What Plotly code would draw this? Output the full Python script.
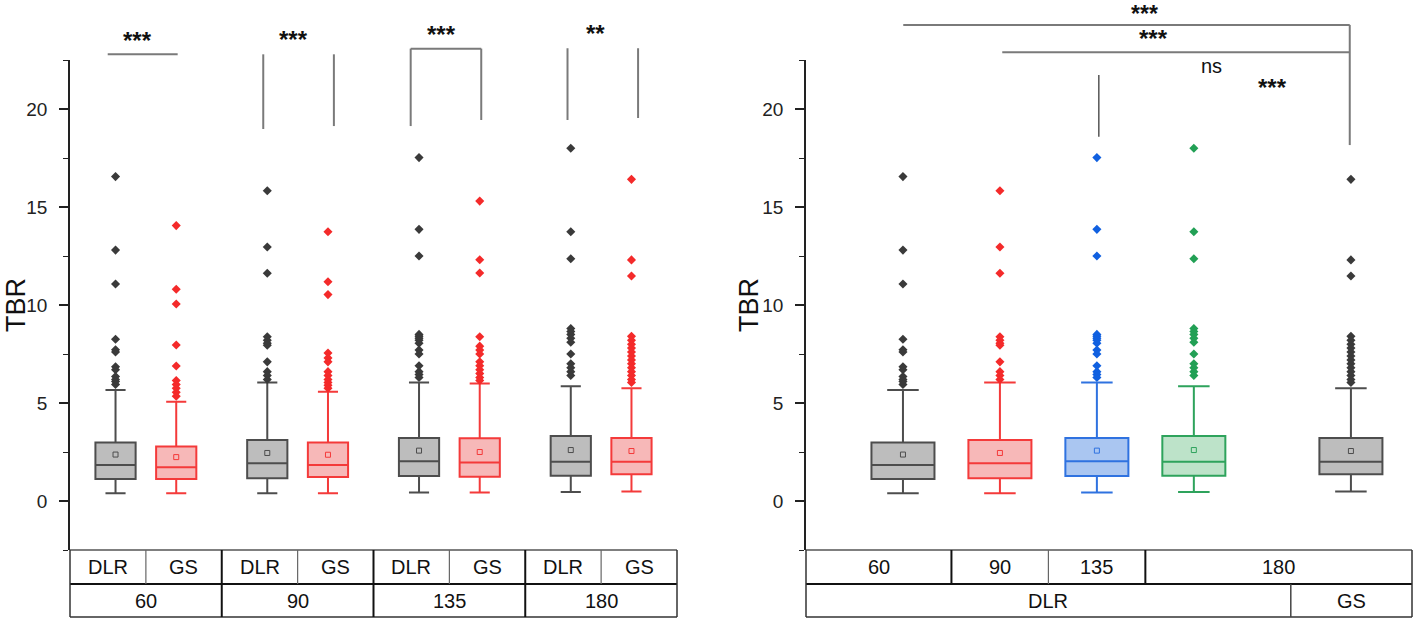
import plotly.graph_objects as go

# ---------------- data ----------------
doses = ["60", "90", "135", "180"]
methods = ["DLR", "GS"]

# box order: DLR60, GS60, DLR90, GS90, DLR135, GS135, DLR180, GS180
lower_whisker = [0.40, 0.40, 0.40, 0.40, 0.43, 0.43, 0.46, 0.48]
q1_vals = [1.12, 1.12, 1.16, 1.22, 1.27, 1.24, 1.29, 1.37]
median_vals = [1.84, 1.72, 1.93, 1.84, 2.03, 1.96, 2.00, 2.00]
q3_vals = [2.99, 2.78, 3.11, 2.98, 3.22, 3.20, 3.31, 3.21]
upper_whisker = [5.66, 5.07, 6.05, 5.58, 6.05, 6.00, 5.85, 5.75]
mean_vals = [2.37, 2.24, 2.45, 2.36, 2.57, 2.50, 2.60, 2.55]
outliers = [
    [16.55, 12.8, 11.07, 8.25, 7.72, 7.6, 6.85, 6.7, 6.35, 6.2, 6.1, 5.95],
    [14.05, 10.8, 10.05, 7.96, 6.89, 6.15, 5.95, 5.75, 5.55, 5.35],
    [15.83, 12.96, 11.62, 8.38, 8.2, 8.05, 7.95, 7.1, 6.6, 6.4, 6.2],
    [13.74, 11.19, 10.53, 7.55, 7.3, 7.1, 6.6, 6.4, 6.2, 6.05, 5.9, 5.75],
    [17.52, 13.86, 12.5, 8.5, 8.4, 8.3, 8.2, 8.05, 7.7, 7.5, 6.9, 6.6, 6.45, 6.3],
    [15.3, 12.31, 11.63, 8.38, 7.9, 7.7, 7.5, 7.1, 6.9, 6.7, 6.5, 6.3, 6.15],
    [18.0, 13.74, 12.36, 8.8, 8.65, 8.5, 8.3, 8.1, 7.5, 7.0, 6.8, 6.6, 6.4],
    [16.41, 12.3, 11.48, 8.4, 8.2, 8.0, 7.8, 7.6, 7.4, 7.2, 7.0, 6.8, 6.6, 6.4, 6.2, 6.05],
]

# right panel: DLR at 60/90/135/180 and GS (180) -> indices into the box arrays above
right_idx = [0, 2, 4, 6, 7]
right_row1 = ["60", "90", "135", "180"]
right_row2 = ["DLR", "GS"]

left_sig = ["***", "***", "***", "**"]
right_sig = ["***", "***", "ns", "***"]
y_ticks = [0, 5, 10, 15, 20]
y_title = "TBR"

# ---------------- styles / layout ----------------
W, H = 1416, 622
MT, MB = 60, 72
PH = H - MT - MB
Y0, Y1 = -2.5, 22.5
FONT = "Arial, Liberation Sans, sans-serif"

GRAY = dict(line="#4d4d4d", fill="#bdbdbd", pt="#3a3a3a")
RED = dict(line="#f43a3a", fill="#f7b8b8", pt="#f42a2a")
BLUE = dict(line="#2f72e0", fill="#aac6f1", pt="#1060e0")
GREEN = dict(line="#2ea35c", fill="#bde3c9", pt="#22a055")
left_styles = [GRAY, RED] * 4
right_styles = [GRAY, RED, BLUE, GREEN, GRAY]

# x positions of boxes (axis units)
left_pos = [2 * g + 0.6 + 0.8 * m for g in range(4) for m in range(2)]
right_pos = [1, 2, 3, 4, 5.62]
LX = [0, 8]
RX = [0, 6.25]
right_row1_edges = [0, 1.5, 2.5, 3.5, 6.25]
right_row2_edges = [0, 5, 6.25]


def yp(v):
    return (v - Y0) / (Y1 - Y0)


ROW_MID = -34 / PH
ROW_BOT = -67 / PH
FIG_TOP = 1 + MT / PH

fig = go.Figure()


def add_box(xa, ya, pos, i, st, width):
    fig.add_trace(go.Box(
        x=[pos], q1=[q1_vals[i]], median=[median_vals[i]], q3=[q3_vals[i]],
        lowerfence=[lower_whisker[i]], upperfence=[upper_whisker[i]],
        width=width, whiskerwidth=0.5, fillcolor=st["fill"],
        line=dict(color=st["line"], width=2), boxpoints=False,
        xaxis=xa, yaxis=ya, showlegend=False, hoverinfo="skip"))
    fig.add_trace(go.Scatter(
        x=[pos] * len(outliers[i]), y=outliers[i], mode="markers",
        marker=dict(symbol="diamond", size=7, color=st["pt"]),
        xaxis=xa, yaxis=ya, showlegend=False, hoverinfo="skip"))
    fig.add_trace(go.Scatter(
        x=[pos], y=[mean_vals[i]], mode="markers",
        marker=dict(symbol="square-open", size=5, color=st["line"], line=dict(width=1)),
        xaxis=xa, yaxis=ya, showlegend=False, hoverinfo="skip"))


for i in range(8):
    add_box("x", "y", left_pos[i], i, left_styles[i], 0.53)
for k, i in enumerate(right_idx):
    add_box("x2", "y2", right_pos[k], i, right_styles[k], 0.65)

shapes = []
annotations = []

SIG_LINE = dict(color="#7a7a7a", width=2)


def seg(xref, x0, v0, x1, v1, line=SIG_LINE):
    shapes.append(dict(type="line", xref=xref, yref="paper", x0=x0, x1=x1,
                       y0=yp(v0), y1=yp(v1), line=line))


def txt(xref, x, v, t, size=24, bold=True, yshift=-3):
    annotations.append(dict(xref=xref, yref="paper", x=x, y=yp(v), text=("<b>%s</b>" % t) if bold else t,
                            showarrow=False, xanchor="center", yanchor="middle", yshift=yshift,
                            font=dict(family=FONT, size=size, color="#111")))


# left significance marks
seg("x", 0.497, 22.79, 1.419, 22.79)
seg("x", 2.547, 22.79, 2.547, 18.98)
seg("x", 3.478, 22.79, 3.478, 19.13)
seg("x", 4.49, 19.13, 4.49, 23.08)
seg("x", 4.49, 23.08, 5.42, 23.08)
seg("x", 5.42, 23.08, 5.42, 19.44)
seg("x", 6.557, 23.1, 6.557, 19.44)
seg("x", 7.487, 23.1, 7.487, 19.54)
for x, v, t in zip([0.896, 2.945, 4.9, 6.93], [23.67, 23.72, 23.94, 24.03], left_sig):
    txt("x", x, v, t)

# right significance marks
seg("x2", 1.003, 24.29, 5.608, 24.29)
seg("x2", 5.608, 24.29, 5.608, 18.16)
seg("x2", 2.024, 22.89, 5.608, 22.89)
seg("x2", 3.02, 21.73, 3.02, 18.59, dict(color="#555", width=1.5))
# topmost label sits against the top edge of the figure
annotations.append(dict(xref="x2", yref="paper", x=3.49, y=FIG_TOP, text="<b>%s</b>" % right_sig[0],
                        showarrow=False, xanchor="center", yanchor="top", borderpad=0,
                        font=dict(family=FONT, size=23, color="#111")))
for x, v, t in zip([3.585, 4.186, 4.81], [23.74, 22.21, 21.26], right_sig[1:]):
    if t == "ns":
        txt("x2", x, v, t, size=20, bold=False, yshift=0)
    else:
        txt("x2", x, v, t)

# tables under the axes
THIN = dict(color="#666", width=1.2)
THICK = dict(color="#111", width=2)
EDGE = dict(color="#333", width=1.5)
TOP = dict(color="#555", width=1.5)


def table_frame(xa):
    d = xa + " domain"
    shapes.append(dict(type="line", xref=d, yref="paper", x0=0, x1=1, y0=0, y1=0, line=TOP))
    shapes.append(dict(type="line", xref=d, yref="paper", x0=0, x1=1, y0=ROW_MID, y1=ROW_MID, line=THICK))
    shapes.append(dict(type="line", xref=d, yref="paper", x0=0, x1=1, y0=ROW_BOT, y1=ROW_BOT, line=EDGE))
    for xx in (0, 1):
        shapes.append(dict(type="line", xref=d, yref="paper", x0=xx, x1=xx, y0=0, y1=ROW_BOT, line=EDGE))


def label(xref, x, yv, t):
    annotations.append(dict(xref=xref, yref="paper", x=x, y=yv, text=t, showarrow=False,
                            xanchor="center", yanchor="middle",
                            font=dict(family=FONT, size=20, color="#111")))


table_frame("x")
for g in range(4):
    for m in range(2):
        label("x", 2 * g + 0.5 + m, ROW_MID / 2, methods[m])
    label("x", 2 * g + 1, (ROW_MID + ROW_BOT) / 2, doses[g])
    shapes.append(dict(type="line", xref="x", yref="paper", x0=2 * g + 1, x1=2 * g + 1,
                       y0=0, y1=ROW_MID, line=THIN))
    if g > 0:
        shapes.append(dict(type="line", xref="x", yref="paper", x0=2 * g, x1=2 * g,
                           y0=0, y1=ROW_BOT, line=THICK))

table_frame("x2")
for k, t in enumerate(right_row1):
    a, b = right_row1_edges[k], right_row1_edges[k + 1]
    label("x2", (a + b) / 2, ROW_MID / 2, t)
    if k > 0:
        shapes.append(dict(type="line", xref="x2", yref="paper", x0=a, x1=a, y0=0, y1=ROW_MID,
                           line=THIN if t == "135" else THICK))
for k, t in enumerate(right_row2):
    a, b = right_row2_edges[k], right_row2_edges[k + 1]
    label("x2", (a + b) / 2, (ROW_MID + ROW_BOT) / 2, t)
    if k > 0:
        shapes.append(dict(type="line", xref="x2", yref="paper", x0=a, x1=a, y0=ROW_MID, y1=ROW_BOT,
                           line=dict(color="#444", width=1.5)))

# y titles (left one kept inside the figure edge)
annotations.append(dict(xref="paper", yref="paper", x=0, y=0.5, text=y_title, textangle=-90,
                        showarrow=False, xanchor="left", yanchor="middle", borderpad=0,
                        font=dict(family=FONT, size=27, color="#111")))
annotations.append(dict(xref="paper", yref="paper", x=749 / W, y=0.5, text=y_title, textangle=-90,
                        showarrow=False, xanchor="center", yanchor="middle",
                        font=dict(family=FONT, size=27, color="#111")))

yax = dict(range=[Y0, Y1], tickvals=y_ticks, ticks="outside", ticklen=9, tickwidth=1.5,
           tickcolor="#222", showline=True, linewidth=1.5, linecolor="#222", showgrid=False,
           zeroline=False, tickfont=dict(family=FONT, size=19, color="#222"), automargin=False,
           ticklabelstandoff=8,
           minor=dict(dtick=2.5, tick0=0, ticks="outside", ticklen=5, tickwidth=1.2, tickcolor="#222"))
xax = dict(visible=False, showgrid=False, zeroline=False, automargin=False)

fig.update_layout(
    width=W, height=H, margin=dict(l=0, r=0, t=MT, b=MB), paper_bgcolor="white",
    plot_bgcolor="white", boxmode="overlay", showlegend=False,
    xaxis=dict(xax, range=LX, domain=[70 / W, 677 / W]),
    xaxis2=dict(xax, range=RX, domain=[806 / W, 1412 / W]),
    yaxis=dict(yax, anchor="x"),
    yaxis2=dict(yax, anchor="x2"),
    shapes=shapes, annotations=annotations,
)

fig.write_html("out.html", config={"displayModeBar": False},
               post_script="document.body.style.margin='0px';document.body.style.overflow='hidden';")
